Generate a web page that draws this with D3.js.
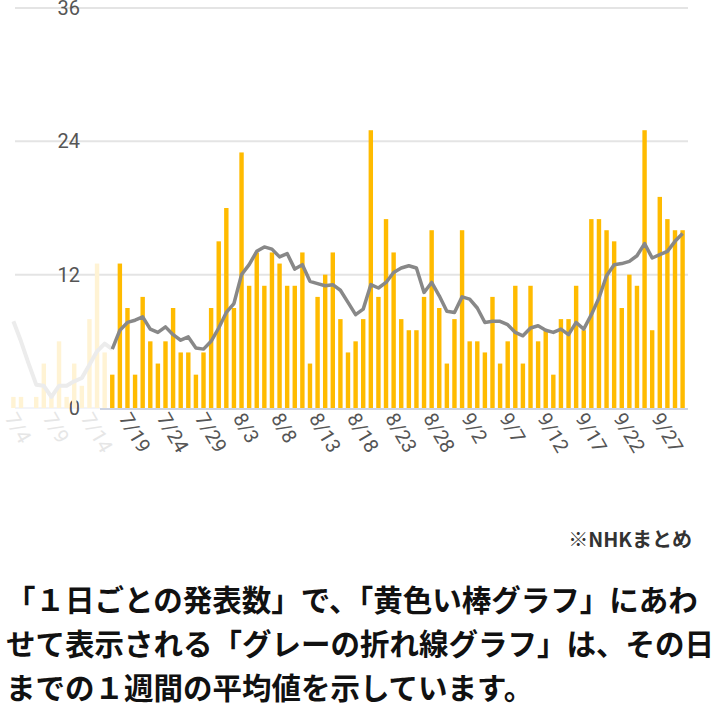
<!DOCTYPE html>
<html>
<head>
<meta charset="utf-8">
<script src="https://cdn.jsdelivr.net/npm/d3@7"></script>
<style>
  body { margin: 0; background: #fff; }
  svg text { font-family: Roboto, "Noto Sans CJK JP", sans-serif; }
</style>
</head>
<body>
<script>
// daily counts, 7/4 .. 9/30
const dailyCounts = [
  1, 1, 0, 1, 4, 1, 6, 1, 4, 2, 8, 13, 5,          // 7/4 - 7/16 (faded)
  3, 13, 9, 3, 10, 6, 4, 6, 9, 5, 5, 3, 5, 9, 15,  // 7/17 - 7/31
  18, 9, 23, 11, 14, 11, 14, 13, 11, 11, 14, 4, 10, 12, 14, 8,
  5, 6, 8, 25, 10, 17, 14, 8, 7, 7, 10, 16, 9, 4, 8,   // 8/1 - 8/31
  16, 6, 6, 5, 10, 4, 6, 11, 4, 11, 6, 7, 3, 8, 8,
  11, 7, 17, 17, 16, 15, 9, 12, 11, 25, 7, 19, 17, 16, 16  // 9/1 - 9/30
];
// weekly average as drawn (grey line)
const weeklyAvg = [
  7.8, 6, 4, 2.1, 2, 1, 2, 2, 2.4, 2.7, 3.9, 5.1, 5.8,
  5.3, 7, 7.7, 7.9, 8.2, 7.1, 6.8, 7.3, 6.6, 6.1, 6.4, 5.4, 5.3, 6, 7.2,
  8.6, 9.4, 12, 12.9, 14.1, 14.5, 14.3, 13.6, 13.9, 12.5, 12.9, 11.4, 11.2, 11, 11.1, 10.6,
  9.5, 8.4, 8.9, 11.1, 10.8, 11.3, 12.2, 12.6, 12.8, 12.6, 10.4, 11.3, 10.1, 8.7, 8.6,
  10, 9.8, 9, 7.7, 7.8, 7.8, 7.5, 6.8, 6.5, 7.2, 7.4, 7, 6.8, 7.1, 6.6,
  7.7, 7.1, 8.4, 9.9, 11.9, 12.9, 13, 13.2, 13.7, 14.8, 13.5, 13.8, 14.1, 15, 15.7
];
const yTicks = [0, 12, 24, 36];
const fadedCount = 13; // 7/4 - 7/16 are faded out
const source = "※NHKまとめ";
const captionLines = [
  "「１日ごとの発表数」で、「黄色い棒グラフ」にあわ",
  "せて表示される「グレーの折れ線グラフ」は、その日",
  "までの１週間の平均値を示しています。"
];

const start = new Date(2020, 6, 4);
const dates = dailyCounts.map((_, i) => d3.timeDay.offset(start, i));
const fmt = d => (d.getMonth() + 1) + "/" + d.getDate();
const labels = dates.map(fmt);

const w = 720, h = 710;
const svg = d3.select("body").append("svg").attr("width", w).attr("height", h);

const x = d3.scaleBand().domain(labels).range([8, 688]).padding(0.42);
const y = d3.scaleLinear().domain([0, 36]).range([408, 8]);
const cx = l => x(l) + x.bandwidth() / 2;

// grid
svg.append("g").selectAll("line").data(yTicks.slice(1)).enter().append("line")
  .attr("x1", 15).attr("x2", 688)
  .attr("y1", d => y(d)).attr("y2", d => y(d))
  .attr("stroke", "#e4e4e4").attr("stroke-width", 2);
svg.append("line").attr("x1", 15).attr("x2", 100).attr("y1", y(0)).attr("y2", y(0))
  .attr("stroke", "#f3f4f8").attr("stroke-width", 2);
svg.append("line").attr("x1", 100).attr("x2", 688).attr("y1", y(0) + 1).attr("y2", y(0) + 1)
  .attr("stroke", "#cdd3e2").attr("stroke-width", 2);

// y labels
svg.append("g").selectAll("text").data(yTicks).enter().append("text")
  .attr("x", 80).attr("y", d => y(d) + 7)
  .attr("text-anchor", "end")
  .style("font-size", "20px").style("fill", "#555")
  .text(d => d);

// bars
svg.append("g").selectAll("rect").data(dailyCounts).enter().append("rect")
  .attr("x", (d, i) => x(labels[i]))
  .attr("y", d => y(d))
  .attr("width", x.bandwidth())
  .attr("height", d => y(0) - y(d))
  .attr("fill", (d, i) => i < fadedCount ? "#fff3d4" : "#ffbb00");

// line, faded part then solid part
const avgLine = d3.line().x(d => cx(labels[d[0]])).y(d => y(d[1]));
svg.append("path")
  .datum(weeklyAvg.slice(0, fadedCount + 1).map((v, i) => [i, v]))
  .attr("d", avgLine).attr("fill", "none")
  .attr("stroke", "#ececec").attr("stroke-width", 4).attr("stroke-linejoin", "round");
svg.append("path")
  .datum(weeklyAvg.map((v, i) => [i, v]).slice(fadedCount))
  .attr("d", avgLine).attr("fill", "none")
  .attr("stroke", "#888").attr("stroke-width", 3.5).attr("stroke-linejoin", "round");

// x labels every 5 days
const tickLabels = labels.filter((_, i) => i % 5 === 0);
svg.append("g").selectAll("text").data(tickLabels).enter().append("text")
  .attr("transform", l => `translate(${cx(l) - 9},${418}) rotate(60)`)
  .attr("text-anchor", "start")
  .style("font-size", "20px")
  .style("fill", l => labels.indexOf(l) < fadedCount ? "#e6e6e6" : "#555")
  .text(l => l);

// source + caption
svg.append("text").attr("x", 692).attr("y", 547).attr("text-anchor", "end")
  .style("font-family", "'Noto Sans CJK JP', sans-serif")
  .style("font-size", "20px").style("font-weight", "bold").style("fill", "#333")
  .text(source);
svg.append("g").selectAll("text").data(captionLines).enter().append("text")
  .attr("x", 6).attr("y", (d, i) => 611 + i * 44)
  .style("font-family", "'Noto Sans CJK JP', sans-serif")
  .style("font-size", "29.5px").style("font-weight", "bold").style("fill", "#111")
  .text(d => d);
</script>
</body>
</html>
